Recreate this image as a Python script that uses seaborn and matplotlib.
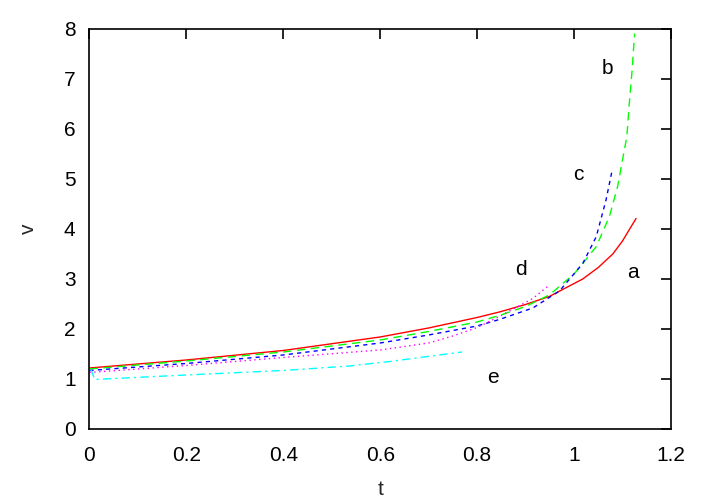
import numpy as np
import pandas as pd
import matplotlib
matplotlib.use("Agg")
import matplotlib.pyplot as plt
import seaborn as sns

# curve samples (t, v)
t_a = [0.0, 0.2, 0.4, 0.6, 0.7, 0.8, 0.846, 0.9, 0.949, 1.018, 1.05, 1.08, 1.10, 1.128]
v_a = [1.22, 1.38, 1.57, 1.84, 2.02, 2.23, 2.34, 2.49, 2.65, 3.0, 3.23, 3.5, 3.76, 4.21]

t_b = [0.0, 0.2, 0.4, 0.6, 0.7, 0.8, 0.846, 0.9, 0.949, 1.0, 1.018, 1.046, 1.073,
       1.09, 1.10, 1.109, 1.114, 1.12, 1.125]
v_b = [1.20, 1.36, 1.54, 1.78, 1.95, 2.14, 2.27, 2.45, 2.68, 3.1, 3.31, 3.65, 4.25,
       4.85, 5.38, 5.85, 6.51, 7.2, 7.91]

t_c = [0.0, 0.2, 0.4, 0.6, 0.7, 0.8, 0.846, 0.915, 0.970, 1.018, 1.046, 1.066, 1.079]
v_c = [1.17, 1.31, 1.48, 1.72, 1.88, 2.06, 2.19, 2.42, 2.76, 3.31, 3.85, 4.58, 5.19]

t_d = [0.0, 0.2, 0.4, 0.6, 0.7, 0.75, 0.8, 0.846, 0.915, 0.948]
v_d = [1.13, 1.27, 1.43, 1.58, 1.72, 1.86, 2.03, 2.25, 2.61, 2.87]

t_e = [0.003, 0.011, 0.2, 0.4, 0.537, 0.62, 0.769]
v_e = [1.19, 0.99, 1.08, 1.17, 1.26, 1.35, 1.54]

names = ["a", "b", "c", "d", "e"]
colors = ["#ff0000", "#00ff00", "#0000ff", "#ff00ff", "#00ffff"]
styles = ["-", (0, (6, 4)), (0, (3, 3)), (0, (1, 2.5)), (0, (6, 3, 1.5, 3))]

# label positions
lab_t = [1.121, 1.069, 1.009, 0.89, 0.832]
lab_v = [3.12, 7.2, 5.08, 3.18, 1.02]

x_ticks = [0, 0.2, 0.4, 0.6, 0.8, 1.0, 1.2]
x_ticklabels = ["0", "0.2", "0.4", "0.6", "0.8", "1", "1.2"]
y_ticks = [0, 1, 2, 3, 4, 5, 6, 7, 8]

sns.set_theme(style="white")
plt.rcParams['font.family'] = ['Liberation Sans', 'DejaVu Sans']

fig = plt.figure(figsize=(7.1, 4.98), dpi=100)
ax = fig.add_axes([0.126, 0.1386, 0.819, 0.8032])

series = [(t_a, v_a), (t_b, v_b), (t_c, v_c), (t_d, v_d), (t_e, v_e)]
for (tt, vv), col, ls in zip(series, colors, styles):
    df = pd.DataFrame({"t": tt, "v": vv})
    sns.lineplot(data=df, x="t", y="v", color=col, linestyle=ls,
                 linewidth=1.0, estimator=None, sort=False, ax=ax)

for name, lt, lv in zip(names, lab_t, lab_v):
    ax.text(lt, lv, name, fontsize=15, ha="center", va="center", color="black")

ax.set_xlim(0, 1.2)
ax.set_ylim(0, 8)
ax.set_xticks(x_ticks)
ax.set_xticklabels(x_ticklabels)
ax.set_yticks(y_ticks)
ax.tick_params(direction="in", length=7, width=1.2, labelsize=15,
               top=True, right=True, colors="black")
ax.tick_params(axis="x", pad=12)
ax.tick_params(axis="y", pad=10)
for sp in ax.spines.values():
    sp.set_color("black")
    sp.set_linewidth(1.2)
ax.set_xlabel("t", fontsize=15, labelpad=11)
ax.set_ylabel("v", fontsize=15, labelpad=19)

fig.savefig("out.png", dpi=100)
